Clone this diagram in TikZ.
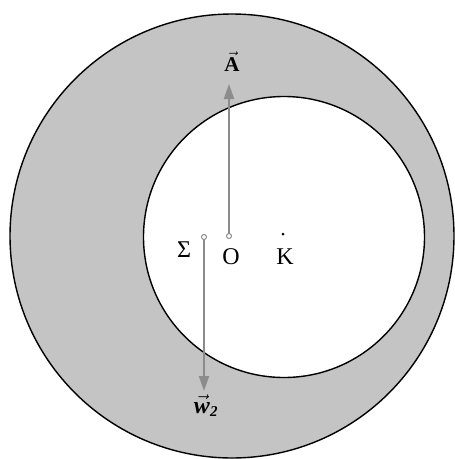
\documentclass[tikz,border=0pt]{standalone}
\usepackage{fontspec}
\setmainfont{Liberation Serif}
\usetikzlibrary{arrows.meta}
\definecolor{ringgray}{RGB}{196,196,196}
\definecolor{vecgray}{RGB}{140,140,140}
\tikzset{
  rim/.style={draw=black, line width=1.4pt},
  vecarrow/.style={draw=vecgray, line width=2pt, -{Triangle[length=15pt,width=10pt]}},
  opendot/.style={circle, draw=vecgray, fill=white, line width=1pt, inner sep=0pt, minimum size=5pt},
  fulldot/.style={circle, fill=black, inner sep=0pt, minimum size=3pt},
  lbl/.style={font=\fontsize{24}{26}\selectfont, inner sep=0pt},
  veclbl/.style={font=\fontsize{21}{24}\selectfont\bfseries, inner sep=0pt}
}
\begin{document}
\begin{tikzpicture}[x=1pt,y=-1pt]
\useasboundingbox (0,0) rectangle (455,459);
\fill[white] (0,0) rectangle (455,459);
\path[rim, fill=ringgray] (232,236) circle [radius=222pt];
\path[rim, fill=white] (284,237) circle [radius=140.5pt];
% points
\coordinate (Atip) at (229,84);
\coordinate (Wtip) at (204,391);
\draw[vecarrow] (229,236) -- (Atip);
\draw[vecarrow] (204,237) -- (Wtip);
\node[opendot] (O) at (229,236) {};
\node[opendot] (S) at (204,237) {};
\node[fulldot] (K) at (283,234) {};
% labels
\node[lbl] (Olbl) at (231,257) {O};
\node[lbl] (Slbl) at (184,250) {Σ};
\node[lbl] (Klbl) at (285,257) {K};
\node[veclbl] (Albl) at (232,62) {$\vec{\hbox{\bfseries A}}$};
\node[veclbl, font=\fontsize{24}{26}\selectfont\bfseries] (Wlbl) at (206,406) {$\vec{\hbox{\bfseries\itshape w}}_{\hbox{\fontsize{15}{15}\selectfont\bfseries\itshape 2}}$};
\end{tikzpicture}
\end{document}
